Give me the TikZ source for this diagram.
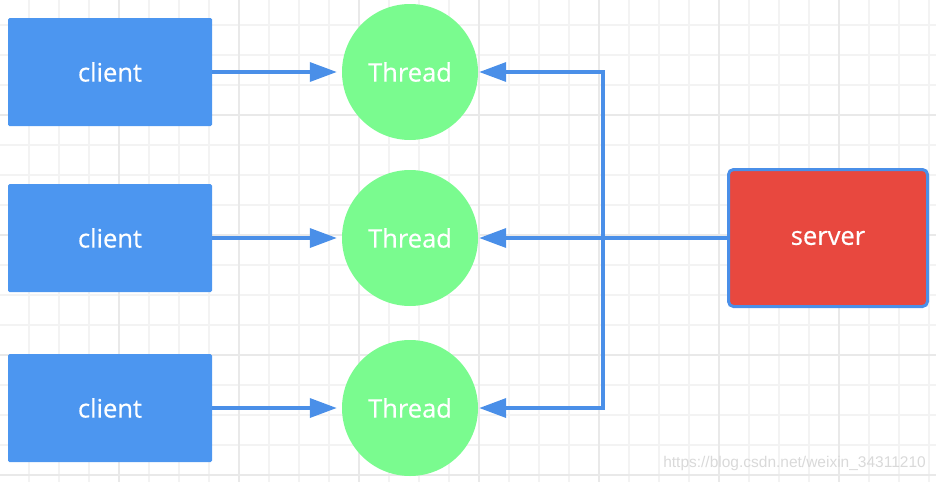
\documentclass[tikz,border=0pt]{standalone}
\usepackage{fontspec}
\setmainfont{Open Sans}
\newfontfamily\labelfont{Open Sans}[FakeBold=0.5]
\newfontfamily\wmfont{Liberation Sans}
\usetikzlibrary{arrows.meta}
\definecolor{gridthin}{HTML}{F3F3F3}
\definecolor{gridthick}{HTML}{E9E9E9}
\definecolor{clientblue}{HTML}{4C96F0}
\definecolor{arrowblue}{HTML}{4A8FE8}
\definecolor{threadgreen}{HTML}{7AFB8F}
\definecolor{serverred}{HTML}{E8483F}
\definecolor{wmgray}{HTML}{D9D9D9}
\tikzset{
  lbl/.style={font=\labelfont\fontsize{25.5}{30}\selectfont},
  clientbox/.style={rectangle, rounded corners=1.5pt, fill=clientblue, text=white,
    minimum width=204pt, minimum height=108pt, inner sep=0pt, lbl},
  threadnode/.style={circle, fill=threadgreen, text=white, minimum size=136pt, inner sep=0pt, lbl},
  serverbox/.style={rectangle, rounded corners=5pt, fill=serverred, draw=arrowblue, line width=3pt,
    text=white, minimum width=199pt, minimum height=137pt, inner sep=0pt, lbl},
  conn/.style={draw=arrowblue, line width=3.5pt},
  arr/.style={conn, -{Triangle[length=27pt,width=19pt]}},
}
\begin{document}
\begin{tikzpicture}[x=1pt,y=-1pt]
\useasboundingbox (0,0) rectangle (936,482);
% grid
\foreach \x in {29,59,...,929} \draw[gridthin, line width=1.5pt] (\x,0) -- (\x,482);
\foreach \y in {25,55,...,475} \draw[gridthin, line width=1.5pt] (0,\y) -- (936,\y);
\foreach \x in {119,239,...,839} \draw[gridthick, line width=2pt] (\x,0) -- (\x,482);
\foreach \y in {115,235,355,475} \draw[gridthick, line width=2pt] (0,\y) -- (936,\y);
% nodes
\node[clientbox] (c1) at (110,72) {client};
\node[clientbox] (c2) at (110,238) {client};
\node[clientbox] (c3) at (110,408) {client};
\node[threadnode] (t1) at (410,72) {Thread};
\node[threadnode] (t2) at (410,238) {Thread};
\node[threadnode] (t3) at (410,408) {Thread};
\node[serverbox] (s) at (828,238) {server};
\coordinate (j) at (603,238);
% connectors
\draw[arr, shorten >=5pt] (c1.east) -- (t1.west);
\draw[arr, shorten >=5pt] (c2.east) -- (t2.west);
\draw[arr, shorten >=5pt] (c3.east) -- (t3.west);
\draw[arr, shorten >=1pt] (s.west) -- (t2.east);
\draw[arr, shorten >=1pt] (j) |- (t1.east);
\draw[arr, shorten >=1pt] (j) |- (t3.east);
% watermark
\node[text=wmgray, font=\wmfont\fontsize{15.5}{17}\selectfont, anchor=east, inner sep=0pt] (wm) at (926,463) {https://blog.csdn.net/weixin\_34311210};
\end{tikzpicture}
\end{document}
